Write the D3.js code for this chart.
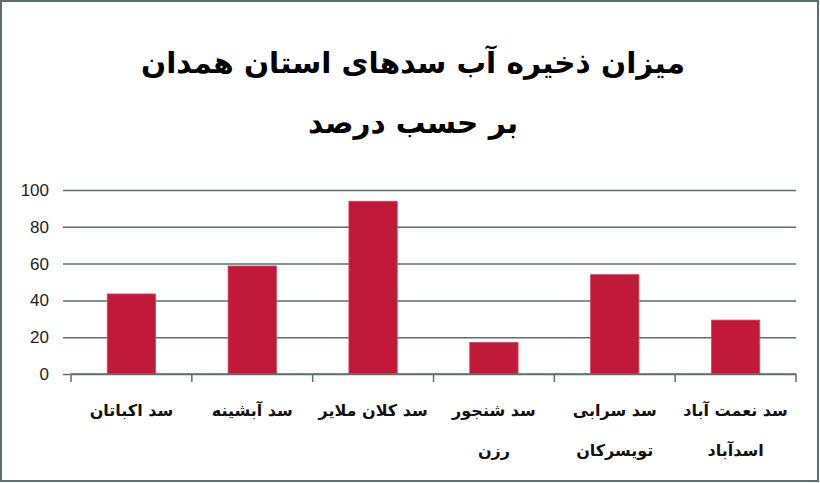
<!DOCTYPE html>
<html>
<head>
<meta charset="utf-8">
<script src="https://cdn.jsdelivr.net/npm/d3@7"></script>
<style>
  html, body { margin: 0; padding: 0; background: #fff; }
  svg { display: block; }
</style>
</head>
<body>
<div id="chart"></div>
<script>
// dam names (two lines where the original wraps) and storage percentages
const dams = ["سد اکباتان", "سد آبشینه", "سد کلان ملایر", "سد شنجور", "سد سرابی", "سد نعمت آباد"];
const damsLine2 = ["", "", "", "رزن", "تویسرکان", "اسدآباد"];
const storage = [43.5, 58.7, 93.9, 17.2, 54, 29.3];
const yTicks = [0, 20, 40, 60, 80, 100];
const titleLines = ["میزان ذخیره آب سدهای استان همدان", "بر حسب درصد"];

const width = 820, height = 483;
const margin = {top: 190, right: 24, bottom: 109, left: 71};
const gridColor = "#5b6f6e";

const svg = d3.select("#chart").append("svg")
    .attr("width", width)
    .attr("height", height);

// outer frame
svg.append("rect")
    .attr("x", 1).attr("y", 1)
    .attr("width", width - 3).attr("height", height - 3)
    .attr("fill", "#fff")
    .attr("stroke", gridColor)
    .attr("stroke-width", 2);

// title
svg.selectAll(".title")
    .data(titleLines)
    .enter().append("text")
    .attr("class", "title")
    .attr("x", 413)
    .attr("y", (d, i) => 73 + i * 60)
    .attr("text-anchor", "middle")
    .attr("direction", "rtl")
    .attr("font-family", "DejaVu Sans")
    .attr("font-weight", "bold")
    .attr("font-size", 29.5)
    .attr("fill", "#000")
    .text(d => d);

const x = d3.scaleBand()
    .domain(dams)
    .range([margin.left, width - margin.right])
    .paddingInner(0.6)
    .paddingOuter(0.3);

const y = d3.scaleLinear()
    .domain([0, 100])
    .range([height - margin.bottom, margin.top]);

// y gridlines + labels
const yAxis = svg.append("g")
    .attr("transform", "translate(" + margin.left + ",0)")
    .call(d3.axisLeft(y).tickValues(yTicks)
        .tickSize(8).tickPadding(14)
        .tickFormat(d3.format("d")));
yAxis.select(".domain").remove();
yAxis.selectAll(".tick line")
    .attr("x2", width - margin.right - margin.left)
    .attr("x1", -8)
    .attr("stroke", gridColor)
    .attr("stroke-width", 1.5);
yAxis.selectAll(".tick text")
    .attr("font-family", "Liberation Sans, Arial, sans-serif")
    .attr("font-size", 17)
    .attr("fill", "#222");

// bars
svg.selectAll(".bar")
    .data(storage)
    .enter().append("rect")
    .attr("class", "bar")
    .attr("x", (d, i) => x(dams[i]))
    .attr("y", d => y(d))
    .attr("width", x.bandwidth())
    .attr("height", d => y(0) - y(d))
    .attr("fill", "#c0193a")
    .attr("stroke", "#d04a60")
    .attr("stroke-width", 0.8);

// x axis: category boundary ticks
const step = x.step();
const bounds = d3.range(dams.length + 1).map(i => margin.left + i * step);
svg.append("line")
    .attr("x1", margin.left).attr("x2", width - margin.right)
    .attr("y1", y(0)).attr("y2", y(0))
    .attr("stroke", gridColor).attr("stroke-width", 1.5);
svg.selectAll(".xtick")
    .data(bounds)
    .enter().append("line")
    .attr("class", "xtick")
    .attr("x1", d => d).attr("x2", d => d)
    .attr("y1", y(0)).attr("y2", y(0) + 8)
    .attr("stroke", gridColor).attr("stroke-width", 1.5);

// category labels
const labels = svg.selectAll(".xlabel")
    .data(dams)
    .enter().append("text")
    .attr("class", "xlabel")
    .attr("text-anchor", "middle")
    .attr("direction", "rtl")
    .attr("font-family", "DejaVu Sans")
    .attr("font-weight", "bold")
    .attr("font-size", 16)
    .attr("fill", "#111");
labels.append("tspan")
    .attr("x", d => x(d) + x.bandwidth() / 2)
    .attr("y", 416)
    .text(d => d);
labels.append("tspan")
    .attr("x", d => x(d) + x.bandwidth() / 2)
    .attr("y", 456)
    .text((d, i) => damsLine2[i]);
</script>
</body>
</html>
